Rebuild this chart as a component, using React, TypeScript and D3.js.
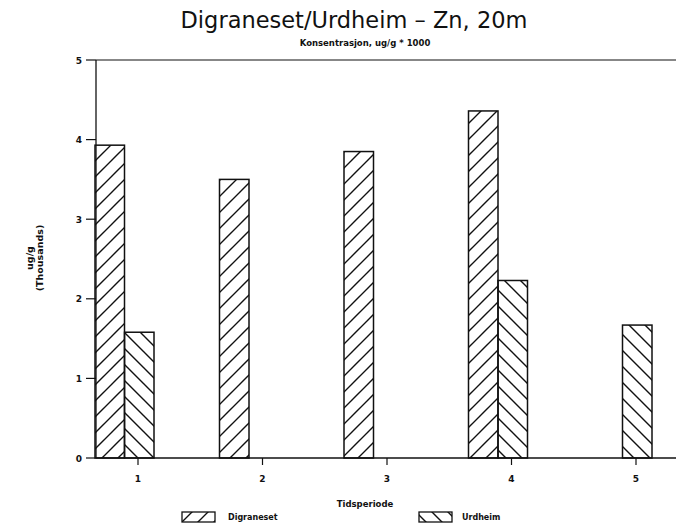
import React from 'react'
import * as d3 from 'd3'

// Zn concentration, ug/g in thousands, per tidsperiode
const periods = [1, 2, 3, 4, 5]
const digraneset: (number | null)[] = [3.93, 3.5, 3.85, 4.36, null]
const urdheim: (number | null)[] = [1.58, null, null, 2.23, 1.67]
const yTicks = [0, 1, 2, 3, 4, 5]

const W = 676
const H = 528
const left = 96
const top = 60
const bottom = 458
const barW = 29.5

export default function App() {
  const x = d3.scalePoint<number>().domain(periods).range([138, 636])
  const y = d3.scaleLinear().domain([0, 5]).range([bottom, top])

  const font = '"DejaVu Sans", sans-serif'

  return (
    <svg width={W} height={H} style={{ position: 'absolute', left: 0, top: 0, background: '#fff' }}>
      <defs>
        <pattern id="hatchFwd" width="16" height="16" patternUnits="userSpaceOnUse">
          <path d="M-2,18 L18,-2 M-2,2 L2,-2 M14,18 L18,14" stroke="#111" strokeWidth="1.4" />
        </pattern>
        <pattern id="hatchBack" width="16" height="16" patternUnits="userSpaceOnUse">
          <path d="M-2,-2 L18,18 M-2,14 L2,18 M14,-2 L18,2" stroke="#111" strokeWidth="1.4" />
        </pattern>
      </defs>

      {/* title */}
      <text x={354} y={28} textAnchor="middle" fontFamily={font} fontSize={22.5} fill="#111">
        Digraneset/Urdheim – Zn, 20m
      </text>
      <text x={365} y={46} textAnchor="middle" fontFamily={font} fontSize={8.5} fontWeight="bold" fill="#111">
        Konsentrasjon, ug/g * 1000
      </text>

      {/* bars */}
      {periods.map((p, i) => {
        const d = digraneset[i]
        const u = urdheim[i]
        const cx = x(p) as number
        return (
          <g key={p}>
            {d != null && (
              <rect x={cx - 43} y={y(d)} width={barW} height={bottom - y(d)}
                fill="url(#hatchFwd)" stroke="#111" strokeWidth={1.5} />
            )}
            {u != null && (
              <rect x={cx - 13.5} y={y(u)} width={barW} height={bottom - y(u)}
                fill="url(#hatchBack)" stroke="#111" strokeWidth={1.5} />
            )}
          </g>
        )
      })}

      {/* axes */}
      <line x1={left} x2={left} y1={top} y2={bottom} stroke="#111" strokeWidth={1.3} />
      <line x1={left} x2={W} y1={top} y2={top} stroke="#111" strokeWidth={1.2} />
      <line x1={left} x2={W} y1={bottom} y2={bottom} stroke="#111" strokeWidth={1.3} />

      {yTicks.map(t => (
        <g key={t}>
          <line x1={86} x2={left} y1={y(t)} y2={y(t)} stroke="#111" strokeWidth={1.2} />
          <text x={79} y={y(t) + 3.5} textAnchor="middle" fontFamily={font} fontSize={9} fontWeight="bold" fill="#111">
            {t}
          </text>
        </g>
      ))}

      {periods.map(p => (
        <g key={p}>
          <line x1={x(p)} x2={x(p)} y1={bottom} y2={bottom + 7} stroke="#111" strokeWidth={1.2} />
          <text x={x(p)} y={482} textAnchor="middle" fontFamily={font} fontSize={9} fontWeight="bold" fill="#111">
            {p}
          </text>
        </g>
      ))}

      {/* axis titles */}
      <g transform="translate(33,258) rotate(-90)">
        <text x={0} y={0} textAnchor="middle" fontFamily={font} fontSize={9.5} fontWeight="bold" fill="#111">ug/g</text>
        <text x={0} y={10} textAnchor="middle" fontFamily={font} fontSize={9.5} fontWeight="bold" fill="#111">(Thousands)</text>
      </g>
      <text x={365} y={507} textAnchor="middle" fontFamily={font} fontSize={8.5} fontWeight="bold" fill="#111">
        Tidsperiode
      </text>

      {/* legend */}
      <rect x={182} y={512} width={33} height={10} fill="url(#hatchFwd)" stroke="#111" strokeWidth={1.3} />
      <text x={228} y={520} fontFamily={font} fontSize={8} fontWeight="bold" fill="#111">Digraneset</text>
      <rect x={419} y={512} width={33} height={10} fill="url(#hatchBack)" stroke="#111" strokeWidth={1.3} />
      <text x={462} y={520} fontFamily={font} fontSize={8} fontWeight="bold" fill="#111">Urdheim</text>
    </svg>
  )
}
